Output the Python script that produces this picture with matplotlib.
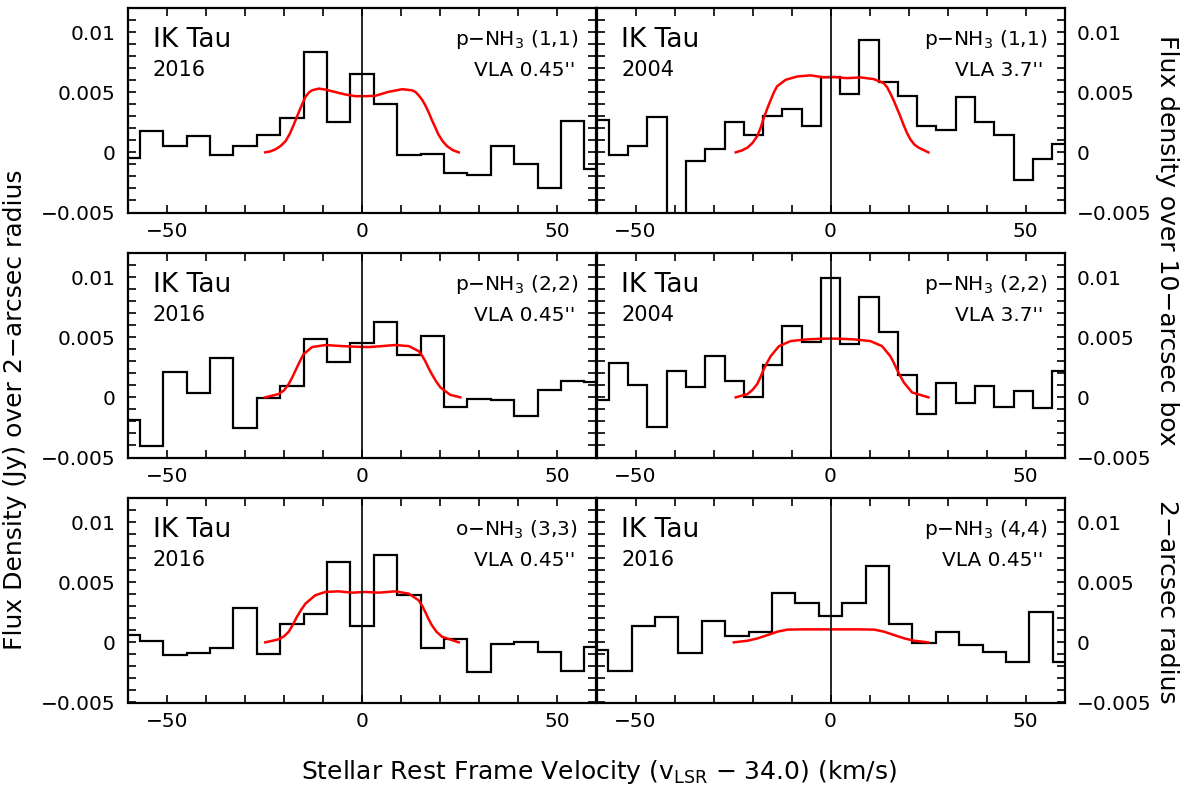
import matplotlib
matplotlib.use('Agg')
import matplotlib.pyplot as plt
import numpy as np
from matplotlib.ticker import MultipleLocator, FuncFormatter

plt.rcParams['font.family'] = ['DejaVu Sans']
plt.rcParams['mathtext.default'] = 'regular'

# channel centres (km/s) and widths for the two epochs
vel_2016 = [-60, -54, -48, -42, -36, -30, -24, -18, -12, -6, 0,
            6, 12, 18, 24, 30, 36, 42, 48, 54, 60]
width_2016 = 6.0
vel_2004 = [-59.28, -54.34, -49.40, -44.46, -39.52, -34.58, -29.64, -24.70,
            -19.76, -14.82, -9.88, -4.94, 0.0, 4.94, 9.88, 14.82, 19.76,
            24.70, 29.64, 34.58, 39.52, 44.46, 49.40, 54.34, 59.28]
width_2004 = 4.94

# observed spectra (Jy)
nh3_11_2016 = [-0.00047, 0.00175, 0.00056, 0.00139, -0.00022, 0.0005, 0.00147,
               0.00286, 0.00833, 0.00256, 0.00653, 0.00403, -0.0002, -0.0001,
               -0.00172, -0.00192, 0.0005, -0.00097, -0.00297, 0.00264, -0.00139]
nh3_11_2004 = [0.00267, -0.00019, 0.00056, 0.00294, -0.0085, -0.00075, 0.00031,
               0.00256, 0.00144, 0.003, 0.00361, 0.00222, 0.00625, 0.00486,
               0.00933, 0.00583, 0.00472, 0.00217, 0.00189, 0.00461, 0.00256,
               0.00144, -0.00228, -0.00056, 0.00069]
nh3_22_2016 = [-0.00189, -0.00403, 0.00214, 0.00033, 0.00328, -0.00256, -0.00008,
               0.00097, 0.00486, 0.00297, 0.0045, 0.0063, 0.00356, 0.00506,
               -0.00083, -0.00014, -0.00019, -0.00153, 0.00064, 0.00133, 0.00125]
nh3_22_2004 = [-0.00022, 0.00283, 0.00106, -0.00244, 0.00222, 0.00089, 0.00342,
               0.00133, 0.00006, 0.00272, 0.00592, 0.00458, 0.00994, 0.00444,
               0.00833, 0.00542, 0.00189, -0.00139, 0.00117, -0.0005, 0.00092,
               -0.00078, 0.00056, -0.00092, 0.00222]
nh3_33_2016 = [0.00061, 0.00011, -0.00106, -0.00092, -0.0005, 0.00289, -0.00097,
               0.00153, 0.00233, 0.00672, 0.00139, 0.00728, 0.00394, -0.00044,
               0.00028, -0.00244, -0.00017, 0.0, -0.00078, -0.00236, -0.00036]
nh3_44_2016 = [-0.00064, -0.00236, 0.00139, 0.00208, -0.00086, 0.00178, 0.00053,
               0.00083, 0.00408, 0.00325, 0.00219, 0.00325, 0.00631, 0.0015,
               -0.00008, 0.00089, -0.00022, -0.00083, -0.00161, 0.0025, -0.00161]

# model line profiles (velocity, flux)
model_11_2016_v = [-24.8, -23.5, -22.2, -20.9, -19.6, -18.5, -17.5, -16.6, -15.8, -14.5,
                   -13.6, -12.8, -11.1, -9.4, -7.7, -4.3, -1.7, 0.9, 3.4, 6.8, 10.3,
                   12.8, 13.7, 14.5, 15.4, 16.2, 17.1, 17.9, 18.8, 19.6, 20.7, 21.8,
                   23.3, 24.8]
model_11_2016_f = [0.0, 0.00008, 0.00025, 0.00052, 0.00093, 0.00155, 0.0023, 0.00302,
                   0.00366, 0.00462, 0.00498, 0.00516, 0.0053, 0.00522, 0.00508,
                   0.00481, 0.00467, 0.00467, 0.0047, 0.00503, 0.00525, 0.00516,
                   0.00502, 0.00475, 0.00438, 0.00393, 0.00332, 0.0027, 0.00206,
                   0.00148, 0.00092, 0.00052, 0.00018, 0.0]
model_11_2004_v = [-24.3, -22.8, -21.3, -20.0, -18.8, -17.9, -17.1, -16.2, -15.3, -14.5,
                   -13.7, -11.5, -8.5, -5.1, -1.7, 0.8, 4.2, 7.7, 11.1, 13.6, 14.5,
                   15.3, 16.2, 17.0, 17.9, 18.7, 19.6, 20.5, 21.5, 22.6, 25.1]
model_11_2004_f = [0.0, 0.00015, 0.00039, 0.00078, 0.00135, 0.00205, 0.00287, 0.00365,
                   0.00438, 0.00500, 0.00549, 0.00603, 0.00631, 0.0064, 0.00623,
                   0.00626, 0.00617, 0.00623, 0.00609, 0.00576, 0.00542, 0.00493,
                   0.00432, 0.00369, 0.003, 0.00231, 0.00162, 0.00107, 0.00065,
                   0.00039, 0.0]
model_22_2016_v = [-24.8, -21.4, -20.0, -18.8, -17.7, -16.7, -15.8, -15.0, -12.8, -9.4,
                   -5.1, -1.7, 1.7, 5.1, 8.5, 12.0, 14.5, 15.4, 16.2, 17.0, 17.9,
                   19.0, 20.1, 22.6, 25.2]
model_22_2016_f = [0.0, 0.00027, 0.00058, 0.0011, 0.00178, 0.00248, 0.00308, 0.00358,
                   0.00418, 0.00435, 0.00426, 0.00421, 0.00418, 0.00426, 0.00435,
                   0.00426, 0.00385, 0.00347, 0.00302, 0.00248, 0.00193, 0.00133,
                   0.00083, 0.00021, 0.0]
model_22_2004_v = [-24.3, -21.3, -20.0, -18.8, -17.9, -17.1, -16.2, -15.3, -13.2, -10.2,
                   -6.0, -1.7, 1.7, 6.0, 10.2, 13.2, 15.3, 16.2, 17.0, 17.9, 18.8,
                   20.9, 25.1]
model_22_2004_f = [0.0, 0.00027, 0.00062, 0.0011, 0.00172, 0.00234, 0.00292, 0.00344,
                   0.00426, 0.00468, 0.00482, 0.00488, 0.00488, 0.00482, 0.00468,
                   0.00426, 0.00344, 0.00290, 0.00234, 0.00176, 0.00124, 0.00041, 0.0]
model_33_2016_v = [-24.8, -21.4, -20.0, -18.8, -17.7, -16.7, -15.6, -14.5, -12.0, -9.4,
                   -6.0, -2.6, 0.9, 4.3, 8.5, 12.0, 14.5, 15.4, 16.2, 17.0, 17.9,
                   19.1, 20.5, 24.8]
model_33_2016_f = [0.0, 0.00025, 0.00050, 0.00088, 0.00148, 0.00212, 0.00270, 0.00322,
                   0.00391, 0.00419, 0.00424, 0.00413, 0.00419, 0.00413, 0.00424,
                   0.00405, 0.0035, 0.00305, 0.00254, 0.00198, 0.00143, 0.00088,
                   0.00047, 0.0]
model_44_2016_v = [-24.8, -21.2, -18.7, -16.1, -13.6, -11.0, -6.7, 0.0, 6.9, 11.2,
                   13.7, 16.3, 18.9, 21.4, 25.0]
model_44_2016_f = [0.0, 0.00014, 0.00033, 0.00061, 0.00089, 0.00106, 0.00108, 0.00108,
                   0.00108, 0.00106, 0.00089, 0.00061, 0.00033, 0.00014, 0.0]

panels = [
    (0, 0, vel_2016, width_2016, nh3_11_2016, model_11_2016_v, model_11_2016_f,
     '2016', 'p\u2212NH$_3$ (1,1)', "VLA 0.45''"),
    (0, 1, vel_2004, width_2004, nh3_11_2004, model_11_2004_v, model_11_2004_f,
     '2004', 'p\u2212NH$_3$ (1,1)', "VLA 3.7''"),
    (1, 0, vel_2016, width_2016, nh3_22_2016, model_22_2016_v, model_22_2016_f,
     '2016', 'p\u2212NH$_3$ (2,2)', "VLA 0.45''"),
    (1, 1, vel_2004, width_2004, nh3_22_2004, model_22_2004_v, model_22_2004_f,
     '2004', 'p\u2212NH$_3$ (2,2)', "VLA 3.7''"),
    (2, 0, vel_2016, width_2016, nh3_33_2016, model_33_2016_v, model_33_2016_f,
     '2016', 'o\u2212NH$_3$ (3,3)', "VLA 0.45''"),
    (2, 1, vel_2016, width_2016, nh3_44_2016, model_44_2016_v, model_44_2016_f,
     '2016', 'p\u2212NH$_3$ (4,4)', "VLA 0.45''"),
]


def fmt(val, pos):
    if abs(val) < 1e-12:
        return '0'
    return ('%g' % val).replace('-', '\u2212')


W, H = 1181, 787
fig = plt.figure(figsize=(W / 100, H / 100), dpi=100)

col_left = [128, 596.5]
row_top = [8, 253, 498]
ax_w, ax_h = 468, 204.5

for row, col, vel, width, flux, mv, mf, year, line, beam in panels:
    x0 = col_left[col]
    y0 = row_top[row]
    ax = fig.add_axes([x0 / W, 1 - (y0 + ax_h) / H, ax_w / W, ax_h / H])

    v = np.array(vel)
    edges = np.append(v - width / 2, v[-1] + width / 2)
    ax.stairs(flux, edges, baseline=None, color='black', lw=1.6)
    ax.plot(mv, mf, color='red', lw=1.8)
    ax.axvline(0, color='black', lw=1.2)

    ax.set_xlim(-60, 60)
    ax.set_ylim(-0.005, 0.012)
    ax.xaxis.set_major_locator(MultipleLocator(50))
    ax.xaxis.set_minor_locator(MultipleLocator(10))
    ax.yaxis.set_major_locator(MultipleLocator(0.005))
    ax.yaxis.set_minor_locator(MultipleLocator(0.001))
    ax.xaxis.set_major_formatter(FuncFormatter(fmt))
    ax.yaxis.set_major_formatter(FuncFormatter(fmt))
    ax.tick_params(which='both', direction='in', top=True, right=True,
                   length=5.5, width=1.2, labelsize=14.5)
    ax.tick_params(axis='x', pad=7)
    if col == 0:
        ax.tick_params(axis='y', labelleft=True, labelright=False, pad=9)
    else:
        ax.tick_params(axis='y', labelleft=False, labelright=True, pad=9)
    for sp in ax.spines.values():
        sp.set_linewidth(1.6)

    ax.text(0.053, 0.845, 'IK Tau', transform=ax.transAxes, fontsize=19,
            ha='left', va='center')
    ax.text(0.053, 0.695, year, transform=ax.transAxes, fontsize=15,
            ha='left', va='center')
    ax.text(0.962, 0.845, line, transform=ax.transAxes, fontsize=14.5,
            ha='right', va='center')
    ax.text(0.955, 0.695, beam, transform=ax.transAxes, fontsize=14.5,
            ha='right', va='center')

fig.text(15 / W, 1 - 410 / H, 'Flux Density (Jy) over 2\u2212arcsec radius',
         rotation=90, ha='center', va='center', fontsize=18)
fig.text(1167 / W, 1 - 240 / H, 'Flux density over 10\u2212arcsec box',
         rotation=270, ha='center', va='center', fontsize=18)
fig.text(1167 / W, 1 - 602 / H, '2\u2212arcsec radius',
         rotation=270, ha='center', va='center', fontsize=18)
fig.text(599 / W, 1 - 772 / H,
         'Stellar Rest Frame Velocity (v$_{LSR}$ \u2212 34.0) (km/s)',
         ha='center', va='center', fontsize=18)

fig.savefig('out.png', dpi=100)
